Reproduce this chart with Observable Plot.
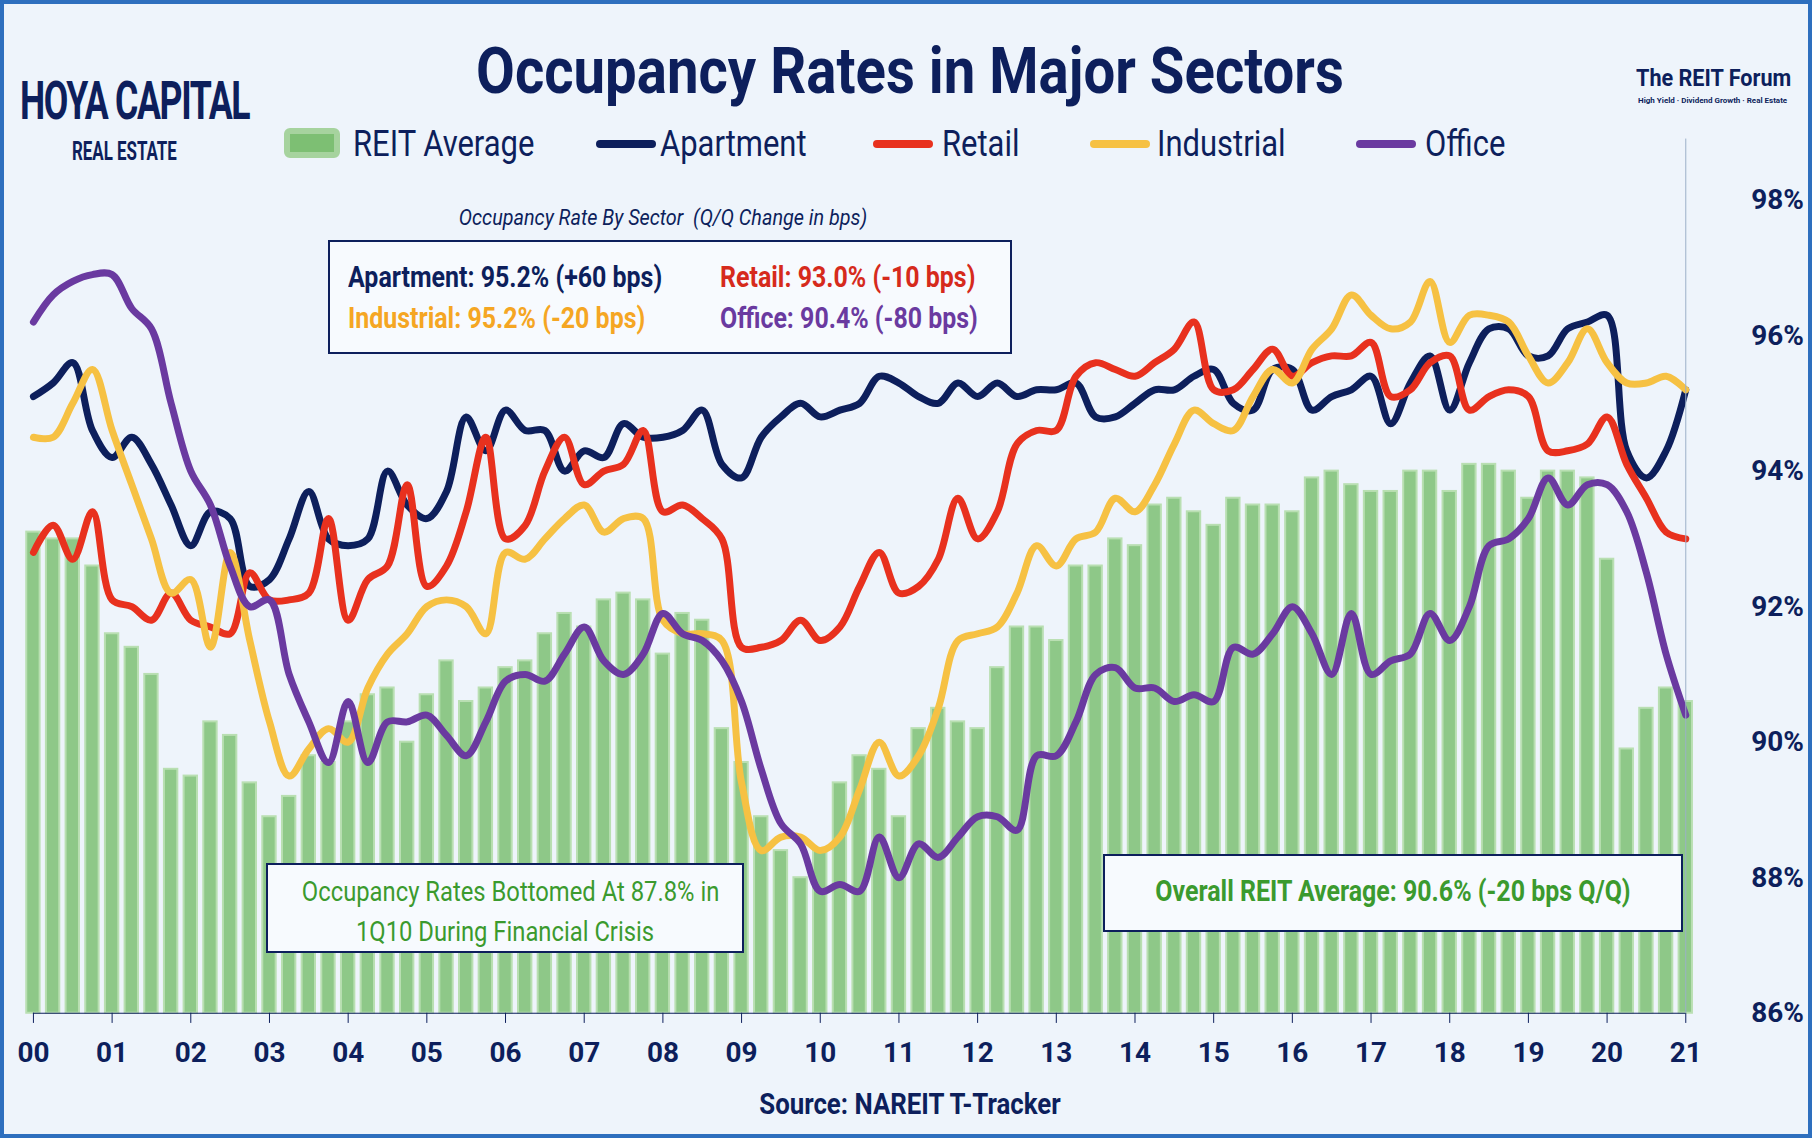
<!DOCTYPE html>
<html><head><meta charset="utf-8">
<script src="https://cdn.jsdelivr.net/npm/d3@7"></script>
<script src="https://cdn.jsdelivr.net/npm/@observablehq/plot@0.6"></script>
<style>
body{margin:0;background:#fff;}
#wrap{position:relative;width:1812px;height:1138px;background:#eef4fb;box-sizing:border-box;border:4px solid #2e6fbe;font-family:"Roboto",sans-serif;color:#0d1f5c;overflow:hidden}
#chart{position:absolute;left:-4px;top:-4px}
.abs{position:absolute;white-space:nowrap}
.n{transform:scaleX(0.86);transform-origin:left}
.box{position:absolute;border:2px solid #0d1f5c;background:#f7fafe;box-sizing:border-box}
</style></head><body>
<div id="wrap">
<div id="chart"></div>
<div class="abs" style="left:0;width:1812px;top:30px;text-align:center;font-size:64px;font-weight:bold;transform:scaleX(0.88)">Occupancy Rates in Major Sectors</div>
<div class="abs" style="left:16px;top:70px;font-size:54px;line-height:54px;font-weight:bold;transform:scaleX(0.66);transform-origin:left;letter-spacing:-2px">HOYA CAPITAL</div>
<div class="abs" style="left:68px;top:134px;font-size:26px;line-height:26px;font-weight:bold;transform:scaleX(0.65);transform-origin:left">REAL ESTATE</div>
<div class="abs" style="left:1632px;top:60px;font-size:24px;font-weight:bold;transform:scaleX(0.9);transform-origin:left">The REIT Forum</div>
<div class="abs" style="left:1634px;top:92px;font-size:8px;font-weight:bold">High Yield · Dividend Growth · Real Estate</div>
<div id="legend"></div>
<div class="abs" style="left:0;width:1318px;top:201px;text-align:center;font-size:22px;font-style:italic;transform:scaleX(0.9)">Occupancy Rate By Sector&nbsp; (Q/Q Change in bps)</div>
<div class="box" style="left:324px;top:236px;width:684px;height:114px"></div>
<div class="abs n" style="left:344px;top:256px;font-size:29px;font-weight:bold;color:#0d1f5c">Apartment: 95.2% (+60 bps)</div>
<div class="abs n" style="left:716px;top:256px;font-size:29px;font-weight:bold;color:#d62a1c">Retail: 93.0% (-10 bps)</div>
<div class="abs n" style="left:344px;top:297px;font-size:29px;font-weight:bold;color:#f5a623">Industrial: 95.2% (-20 bps)</div>
<div class="abs n" style="left:716px;top:297px;font-size:29px;font-weight:bold;color:#6a3aa0">Office: 90.4% (-80 bps)</div>
<div class="box" style="left:262px;top:859px;width:478px;height:90px"></div>
<div class="abs" style="left:262px;width:478px;top:868px;text-align:center;font-size:28px;color:#3b9a2e;line-height:40px;transform:scaleX(0.85)">Occupancy Rates Bottomed At 87.8% in<br>1Q10 During Financial Crisis</div>
<div class="box" style="left:1099px;top:850px;width:580px;height:78px"></div>
<div class="abs" style="left:1099px;width:580px;top:870px;text-align:center;font-size:29px;font-weight:bold;color:#3b9a2e;transform:scaleX(0.86)">Overall REIT Average: 90.6% (-20 bps Q/Q)</div>
<div class="abs" style="left:0;width:1812px;top:1082px;text-align:center;font-size:30px;font-weight:bold;transform:scaleX(0.86)">Source: NAREIT T-Tracker</div>
</div>
<script>
const reitAvg=[93.1,93.0,93.0,92.6, 91.6,91.4,91.0,89.6, 89.5,90.3,90.1,89.4, 88.9,89.2,89.8,89.7, 90.3,90.7,90.8,90.0, 90.7,91.2,90.6,90.8, 91.1,91.2,91.6,91.9, 91.7,92.1,92.2,92.1, 91.3,91.9,91.8,90.2, 89.7,88.9,88.4,88.0, 88.4,89.4,89.8,89.6, 88.9,90.2,90.5,90.3, 90.2,91.1,91.7,91.7, 91.5,92.6,92.6,93.0, 92.9,93.5,93.6,93.4, 93.2,93.6,93.5,93.5, 93.4,93.9,94.0,93.8, 93.7,93.7,94.0,94.0, 93.7,94.1,94.1,94.0, 93.6,94.0,94.0,93.9, 92.7,89.9,90.5,90.8, 90.6];
const apartment=[95.1,95.3,95.6,94.6, 94.2,94.5,94.1,93.5, 92.9,93.4,93.3,92.3, 92.4,93.0,93.7,93.0, 92.9,93.0,94.0,93.5, 93.3,93.7,94.8,94.3, 94.9,94.6,94.6,94.0, 94.3,94.2,94.7,94.5, 94.5,94.6,94.9,94.1, 93.9,94.5,94.8,95.0, 94.8,94.9,95.0,95.4, 95.3,95.1,95.0,95.3, 95.1,95.3,95.1,95.2, 95.2,95.3,94.8,94.8, 95.0,95.2,95.2,95.4, 95.5,95.0,94.9,95.5, 95.5,94.9,95.1,95.2, 95.4,94.7,95.3,95.7, 94.9,95.6,96.1,96.1, 95.7,95.7,96.1,96.2, 96.3,94.3,93.9,94.3, 95.2];
const retail=[92.8,93.2,92.7,93.4, 92.1,92.0,91.8,92.2, 91.8,91.7,91.6,92.5, 92.1,92.1,92.2,93.3, 91.8,92.4,92.6,93.8, 92.3,92.6,93.4,94.5, 93.0,93.2,94.0,94.5, 93.8,94.0,94.1,94.6, 93.4,93.5,93.3,93.0, 91.4,91.4,91.5,91.8, 91.5,91.7,92.3,92.8, 92.2,92.3,92.7,93.6, 93.0,93.4,94.4,94.6, 94.6,95.4,95.6,95.5, 95.4,95.6,95.8,96.2, 95.2,95.2,95.5,95.8, 95.4,95.6,95.7,95.7, 95.9,95.1,95.2,95.6, 95.7,94.9,95.1,95.2, 95.1,94.3,94.3,94.4, 94.8,94.1,93.6,93.1, 93.0];
const industrial=[94.5,94.5,95.0,95.5, 94.6,93.8,93.0,92.2, 92.4,91.4,92.8,91.5, 90.3,89.5,89.9,90.2, 90.0,90.8,91.3,91.6, 92.0,92.1,92.0,91.6, 92.8,92.7,93.0,93.3, 93.5,93.1,93.3,93.3, 91.8,91.6,91.6,91.5, 89.4,88.4,88.6,88.6, 88.4,88.6,89.3,90.0, 89.5,89.8,90.5,91.5, 91.6,91.7,92.2,92.9, 92.6,93.0,93.1,93.6, 93.4,93.8,94.4,94.9, 94.7,94.6,95.1,95.5, 95.3,95.8,96.1,96.6, 96.3,96.1,96.2,96.8, 95.9,96.3,96.3,96.2, 95.7,95.3,95.6,96.1, 95.6,95.3,95.3,95.4, 95.2];
const office=[96.2,96.6,96.8,96.9, 96.9,96.4,96.1,95.0, 94.0,93.5,92.6,92.0, 92.1,91.0,90.3,89.7, 90.6,89.7,90.3,90.3, 90.4,90.1,89.8,90.3, 90.9,91.0,90.9,91.3, 91.7,91.2,91.0,91.3, 91.9,91.6,91.5,91.2, 90.6,89.6,88.8,88.5, 87.8,87.9,87.8,88.6, 88.0,88.5,88.3,88.6, 88.9,88.9,88.7,89.8, 89.8,90.3,91.0,91.1, 90.8,90.8,90.6,90.7, 90.6,91.4,91.3,91.6, 92.0,91.6,91.0,91.9, 91.0,91.2,91.3,91.9, 91.5,92.0,92.9,93.0, 93.3,93.9,93.5,93.8, 93.8,93.4,92.5,91.3, 90.4];
const yearLabels=["00","01","02","03","04","05","06","07","08","09","10","11","12","13","14","15","16","17","18","19","20","21"];
const yTicks=[86,88,90,92,94,96,98];
const series=[["Apartment",apartment,"#0d1f5c"],["Retail",retail,"#e8311e"],["Industrial",industrial,"#f6c143"],["Office",office,"#6a3aa0"]];
const t=i=>2000+i/4;
const bars=reitAvg.map((v,i)=>({t:t(i),v}));
const lineData=series.flatMap(([name,vals])=>vals.map((v,i)=>({name,t:t(i),v})));
const colorMap=Object.fromEntries(series.map(s=>[s[0],s[2]]));
const years=yearLabels.map((l,i)=>({l,x:2000+i}));
const plot=Plot.plot({
  width:1812,height:1138,marginLeft:33,marginRight:123,marginTop:200,marginBottom:123,
  style:{background:"transparent",fontFamily:"Roboto, sans-serif",overflow:"visible"},
  x:{type:"linear",domain:[2000,2021],axis:null},
  y:{type:"linear",domain:[86,98],axis:null},
  marks:[
    Plot.rect(bars,{x1:d=>d.t-0.085,x2:d=>d.t+0.085,y1:()=>86,y2:"v",fill:"#7dbf73",fillOpacity:0.85,stroke:"#b9dfb2",strokeWidth:2}),
    Plot.line(lineData,{x:"t",y:"v",z:"name",stroke:d=>colorMap[d.name],strokeWidth:7,curve:"catmull-rom",strokeLinecap:"round"}),
    Plot.ruleY([86],{x1:2000,x2:2021,stroke:"#0d1f5c",strokeWidth:1}),
    Plot.ruleX(years,{x:"x",y1:86,y2:85.85,stroke:"#0d1f5c"}),
    Plot.text(years,{x:"x",y:()=>86,dy:40,text:"l",fontSize:28,fontWeight:"bold",fill:"#0d1f5c"}),
    Plot.ruleX([2021],{y1:86,y2:98.9,stroke:"#9bb0c8",strokeWidth:1}),
    Plot.text(yTicks,{x:()=>2021,y:d=>d,dx:92,text:d=>d+"%",fontSize:28,fontWeight:"bold",fill:"#0d1f5c"})
  ]
});
document.getElementById("chart").appendChild(plot);
const legend=[["REIT Average","bar",280,349],["Apartment","#0d1f5c",592,656],["Retail","#e8311e",869,938],["Industrial","#f6c143",1086,1153],["Office","#6a3aa0",1352,1421]];
const lg=document.getElementById("legend");
legend.forEach(([name,c,sx,tx])=>{
  const s=document.createElement("div");s.className="abs";
  if(c==="bar"){s.style.cssText=`left:${sx}px;top:124px;width:56px;height:30px;background:#7dbf73;border:6px solid #a6d39e;box-sizing:border-box;border-radius:6px`;}
  else{s.style.cssText=`left:${sx}px;top:136px;width:60px;height:8px;background:${c};border-radius:4px`;}
  lg.appendChild(s);
  const tx_=document.createElement("div");tx_.className="abs n";tx_.style.cssText=`left:${tx}px;top:119px;font-size:36px`;tx_.textContent=name;lg.appendChild(tx_);
});
</script>
</body></html>
